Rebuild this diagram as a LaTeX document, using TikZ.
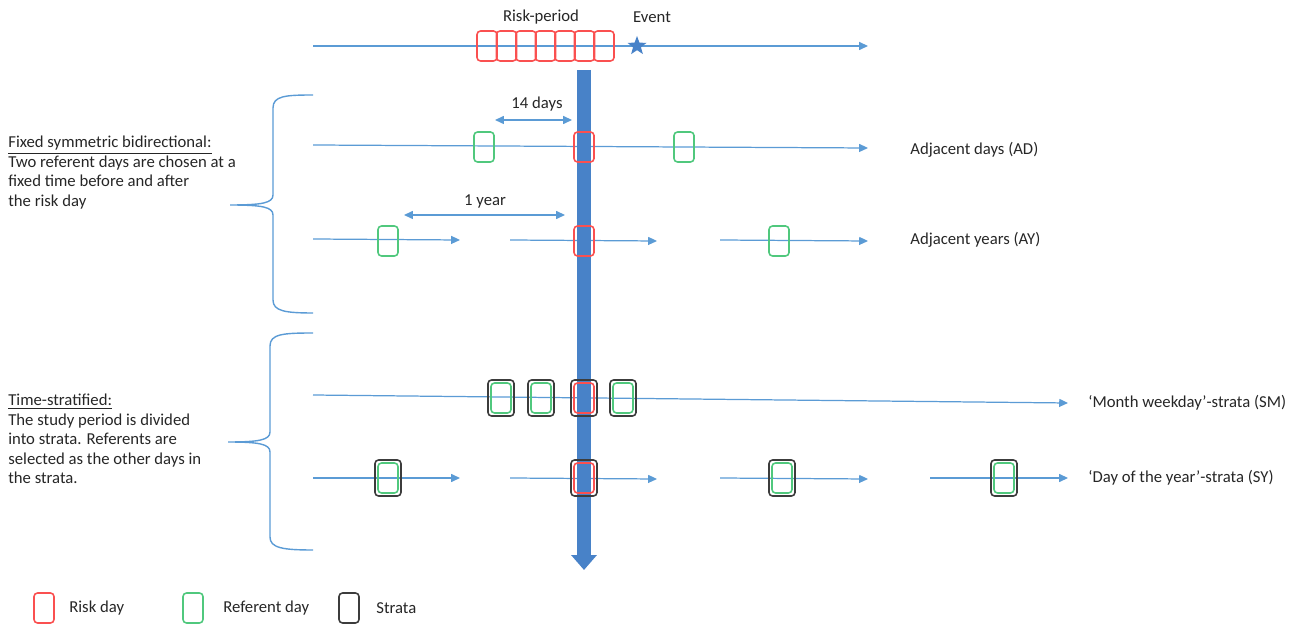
\documentclass[tikz,border=0pt]{standalone}
\usepackage{fontspec}
\setmainfont{Carlito}
\usetikzlibrary{positioning,shapes.geometric,arrows.meta}
\definecolor{lineblue}{RGB}{91,155,213}
\definecolor{barblue}{RGB}{72,130,200}
\definecolor{riskred}{RGB}{250,80,80}
\definecolor{refgreen}{RGB}{80,200,125}
\definecolor{stratagray}{RGB}{60,60,60}

\begin{document}
\begin{tikzpicture}[x=0.02cm,y=-0.02cm,
  every node/.style={font=\fontsize{9.5}{11.1}\selectfont, text=black!85},
  tline/.style={draw=lineblue, line width=0.7pt},
  tarrow/.style={tline, -{Triangle[length=5pt,width=4.5pt]}},
  dimarrow/.style={tline, {Triangle[length=5pt,width=4.5pt]}-{Triangle[length=5pt,width=4.5pt]}},
  riskbox/.style={rectangle, draw=riskred, line width=0.9pt, rounded corners=2pt,
                  minimum width=0.4cm, minimum height=0.6cm, inner sep=0pt},
  refbox/.style={riskbox, draw=refgreen},
  stratabox/.style={riskbox, draw=stratagray, minimum width=0.52cm, minimum height=0.72cm},
  bar/.style={draw=barblue, line width=0.28cm, -{Triangle[length=0.3cm,width=0.5cm]}},
  brace/.style={draw=lineblue, line width=0.8pt},
  lefttext/.style={anchor=north west, align=left, inner sep=0pt},
  lab/.style={anchor=west, inner sep=0pt}
]
  \useasboundingbox (0,0) rectangle (1294,624);

  % top time line with risk period
  \coordinate (top0) at (313,46);
  \coordinate (top1) at (868,46);
  \draw[tarrow] (top0) -- (top1);
  \foreach \i in {0,...,6}
    \node[riskbox] (rp\i) at ({487+19.5*\i},46) {};
  \node[star, star points=5, star point ratio=2.4, fill=barblue, minimum size=0.4cm, inner sep=0pt] (event) at (637,46) {};
  \node (rplab) at (541,17) {Risk-period};
  \node (evlab) at (652,17) {Event};

  % adjacent days
  \coordinate (ad0) at (313,145);
  \coordinate (ad1) at (868,148);
  \draw[tarrow] (ad0) -- (ad1);
  \coordinate (d14a) at (495,120);
  \coordinate (d14b) at (572,120);
  \draw[dimarrow] (d14a) -- (d14b);
  \node (d14) at (537,104) {14 days};

  % adjacent years
  \coordinate (ay0) at (313,239);
  \coordinate (ay1) at (460,240);
  \coordinate (ay2) at (510,240);
  \coordinate (ay3) at (657,241);
  \coordinate (ay4) at (720,240);
  \coordinate (ay5) at (868,241);
  \draw[tarrow] (ay0) -- (ay1);
  \draw[tarrow] (ay2) -- (ay3);
  \draw[tarrow] (ay4) -- (ay5);
  \coordinate (yra) at (404,215);
  \coordinate (yrb) at (565,215);
  \draw[dimarrow] (yra) -- (yrb);
  \node (yr) at (485,201) {1 year};

  % month weekday strata
  \coordinate (sm0) at (313,395);
  \coordinate (sm1) at (1068,403);
  \draw[tarrow] (sm0) -- (sm1);

  % day of the year strata
  \coordinate (sy0) at (313,478);
  \coordinate (sy1) at (460,478);
  \coordinate (sy2) at (510,478);
  \coordinate (sy3) at (657,479);
  \coordinate (sy4) at (720,478);
  \coordinate (sy5) at (868,479);
  \coordinate (sy6) at (930,478);
  \coordinate (sy7) at (1068,478);
  \draw[tarrow] (sy0) -- (sy1);
  \draw[tarrow] (sy2) -- (sy3);
  \draw[tarrow] (sy4) -- (sy5);
  \draw[tarrow] (sy6) -- (sy7);

  % the risk day bar
  \coordinate (vtop) at (584,70);
  \coordinate (vbot) at (584,570);
  \draw[bar] (vtop) -- (vbot);

  % days
  \node[refbox] (adl) at (484,147) {};
  \node[riskbox] (adm) at (584,147) {};
  \node[refbox] (adr) at (684,147) {};
  \node[refbox] (ayl) at (388,241) {};
  \node[riskbox] (aym) at (584,241) {};
  \node[refbox] (ayr) at (779,241) {};
  \foreach \n/\x in {a/501,b/541,d/623}{
    \node[stratabox] (sm\n) at (\x,398) {};
    \node[refbox] (smi\n) at (\x,398) {};
  }
  \node[stratabox] (smc) at (584,398) {};
  \node[riskbox] (smic) at (584,398) {};
  \foreach \n/\x in {a/388,c/782,d/1004}{
    \node[stratabox] (sy\n) at (\x,478) {};
    \node[refbox] (syi\n) at (\x,478) {};
  }
  \node[stratabox] (syb) at (584,478) {};
  \node[riskbox] (syib) at (584,478) {};

  % labels on the right
  \node[lab] (adlab) at (910,150) {Adjacent days (AD)};
  \node[lab] (aylab) at (910,240) {Adjacent years (AY)};
  \node[lab] (smlab) at (1088,403) {‘Month weekday’-strata (SM)};
  \node[lab] (sylab) at (1088,478) {‘Day of the year’-strata (SY)};

  % braces
  \draw[brace] (313,95) .. controls (285,95) and (273,96) .. (273,108) -- (273,195)
    .. controls (273,203) and (262,205) .. (230,205)
    .. controls (262,205) and (273,207) .. (273,215) -- (273,300)
    .. controls (273,311) and (285,313) .. (313,313);
  \draw[brace] (313,333) .. controls (283,333) and (270,334) .. (270,346) -- (270,432)
    .. controls (270,440) and (259,442) .. (228,442)
    .. controls (259,442) and (270,444) .. (270,452) -- (270,537)
    .. controls (270,548) and (283,550) .. (313,550);

  % left texts
  \node[lefttext] (fsb) at (8,136) {\underline{Fixed symmetric bidirectional:}\\
    Two referent days are chosen at a\\ fixed time before and after\\ the risk day};
  \node[lefttext] (ts) at (8,394) {\underline{Time-stratified:}\\
    The study period is divided\\ into strata. Referents are\\
    selected as the other days in\\ the strata.};

  % legend
  \node[riskbox] (lgrisk) at (44,608) {};
  \node[lab] (lgrisklab) at (69,608) {Risk day};
  \node[refbox] (lgref) at (193,608) {};
  \node[lab] (lgreflab) at (223,608) {Referent day};
  \node[stratabox, minimum width=0.4cm, minimum height=0.6cm] (lgstr) at (349,608) {};
  \node[lab] (lgstrlab) at (376,608) {Strata};
\end{tikzpicture}
\end{document}
